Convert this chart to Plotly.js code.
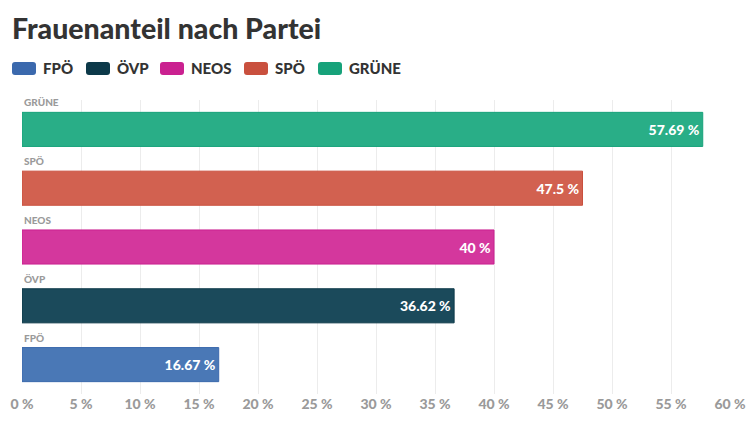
<!DOCTYPE html>
<html>
<head>
<meta charset="utf-8">
<script src="https://cdn.plot.ly/plotly-3.0.1.min.js"></script>
<style>html,body{margin:0;padding:0;background:#fff;}#chart{width:751px;height:425px;}</style>
</head>
<body>
<div id="chart"></div>
<script>
const parties = ['FPÖ', 'ÖVP', 'NEOS', 'SPÖ', 'GRÜNE'];
const shares = [16.67, 36.62, 40, 47.5, 57.69];
const fillColors = ['#4a78b6', '#1b4a5b', '#d4379d', '#d26150', '#29ae87'];
const lineColors = ['#3b69ad', '#0c3949', '#ca2190', '#c9503e', '#17a27a'];
const tickVals = [0, 5, 10, 15, 20, 25, 30, 35, 40, 45, 50, 55, 60];
const tickLabels = tickVals.map(v => v + ' %');

const FONT = 'Lato, "Source Sans Pro", "Open Sans", sans-serif';

const traces = parties.map((p, i) => ({
  type: 'bar',
  orientation: 'h',
  name: p,
  y: [p],
  x: [shares[i]],
  text: [shares[i] + ' %'],
  textposition: 'inside',
  insidetextanchor: 'end',
  textfont: {family: FONT, size: 14, color: '#ffffff', weight: 900},
  marker: {color: fillColors[i], line: {color: lineColors[i], width: 1}},
  width: 0.58,
  showlegend: false,
  hoverinfo: 'none'
}));

// plot area in pixels
const L = 22, R = 730, T = 100, B = 394;
const px2x = p => (p - L) / (R - L);
const py2y = p => (B - p) / (B - T);

const shapes = [];
const annotations = [];

// category labels above bars
parties.forEach(p => {
  annotations.push({
    xref: 'paper', yref: 'y', x: 0, y: p, xanchor: 'left', yanchor: 'middle',
    yshift: 27, showarrow: false, text: p,
    font: {family: FONT, size: 10, color: '#9a9a9a', weight: 900}
  });
});

// legend
const legX = [12, 86, 160, 244, 318];
const legY = 68.5;
parties.forEach((p, i) => {
  shapes.push({
    type: 'path', xref: 'paper', yref: 'paper',
    xsizemode: 'pixel', ysizemode: 'pixel',
    xanchor: px2x(legX[i]), yanchor: py2y(legY),
    path: 'M3,-6.5 L21,-6.5 Q24,-6.5 24,-3.5 L24,3.5 Q24,6.5 21,6.5 L3,6.5 Q0,6.5 0,3.5 L0,-3.5 Q0,-6.5 3,-6.5 Z',
    fillcolor: lineColors[i], line: {width: 0}
  });
  annotations.push({
    xref: 'paper', yref: 'paper', x: px2x(legX[i] + 29), y: py2y(legY),
    xanchor: 'left', yanchor: 'middle', showarrow: false, text: p,
    font: {family: FONT, size: 15, color: '#333333', weight: 900}
  });
});

const layout = {
  width: 751, height: 425,
  margin: {l: L, r: 751 - R, t: T, b: 425 - B, pad: 0},
  paper_bgcolor: '#ffffff', plot_bgcolor: '#ffffff',
  title: {
    text: 'Frauenanteil nach Partei',
    xref: 'container', yref: 'container', x: 12 / 751, xanchor: 'left',
    y: 1 - 29 / 425, yanchor: 'middle',
    font: {family: FONT, size: 28.5, color: '#333333', weight: 900}
  },
  barmode: 'overlay',
  xaxis: {
    range: [0, 60], tickvals: tickVals, ticktext: tickLabels,
    showgrid: true, gridcolor: '#ececec', gridwidth: 1,
    zeroline: false, showline: false, ticks: '',
    tickfont: {family: FONT, size: 14, color: '#9a9a9a', weight: 900},
    fixedrange: true
  },
  yaxis: {
    categoryorder: 'array', categoryarray: parties,
    range: [-0.5, 4.5],
    showticklabels: false, showgrid: false, zeroline: false, showline: false,
    fixedrange: true
  },
  shapes: shapes,
  annotations: annotations,
  showlegend: false
};

Plotly.newPlot('chart', traces, layout, {displayModeBar: false, staticPlot: true});
</script>
</body>
</html>
